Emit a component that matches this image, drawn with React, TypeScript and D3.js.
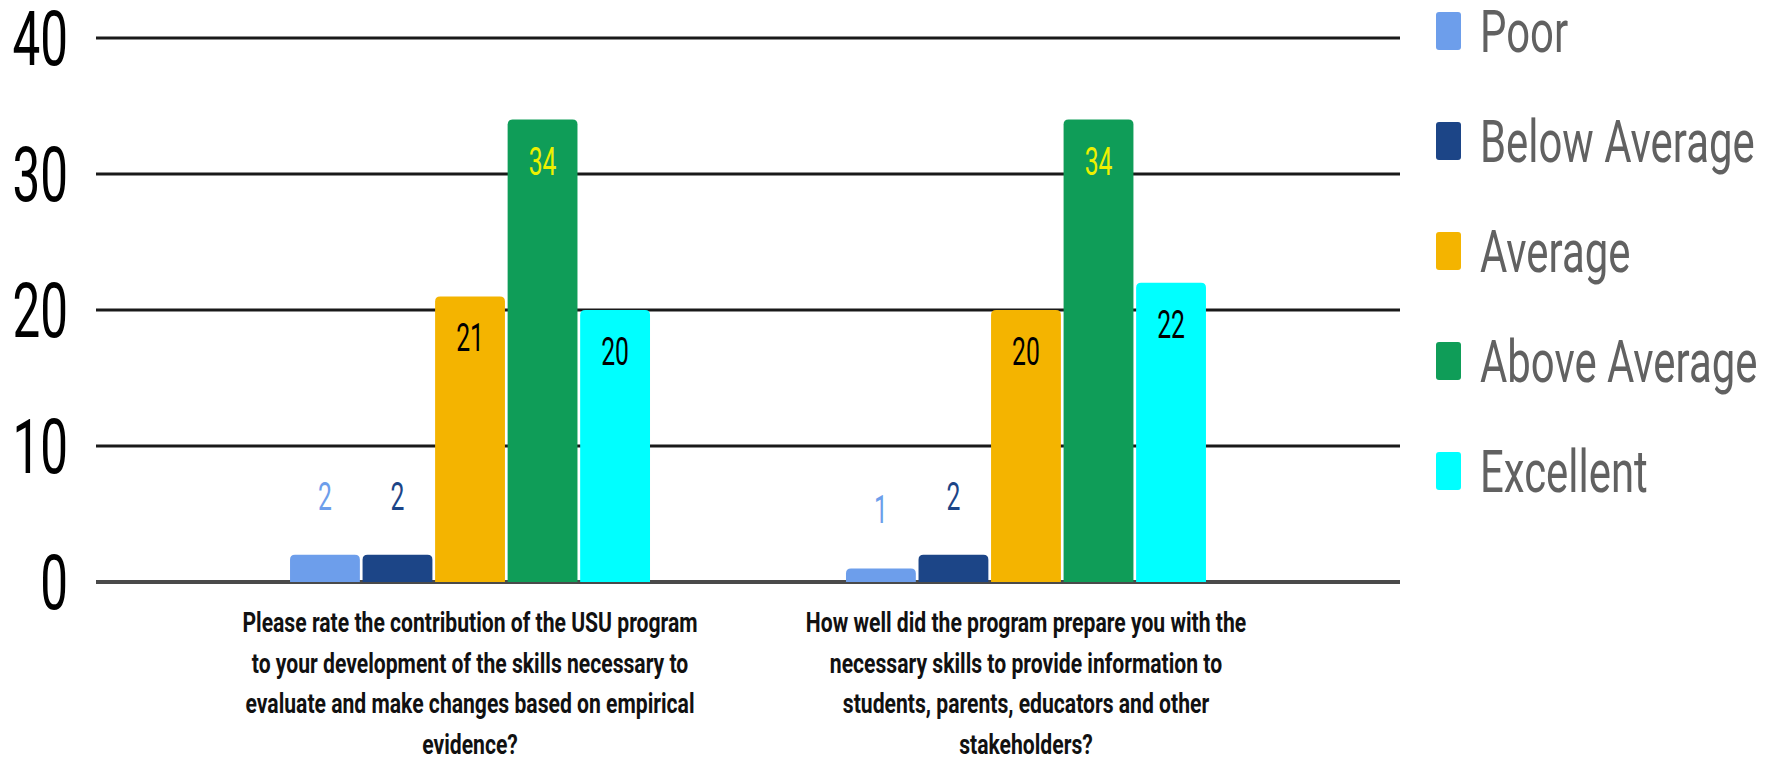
import React from "react";
import * as d3 from "d3";

const categories = [
  [
    "Please rate the contribution of the USU program",
    "to your development of the skills necessary to",
    "evaluate and make changes based on empirical",
    "evidence?",
  ],
  [
    "How well did the program prepare you with the",
    "necessary skills to provide information to",
    "students, parents, educators and other",
    "stakeholders?",
  ],
];
const seriesNames = ["Poor", "Below Average", "Average", "Above Average", "Excellent"];
const seriesColors = ["#6d9eeb", "#1c4587", "#f4b400", "#0f9d58", "#00ffff"];
const insideLabelColors = ["#000000", "#000000", "#000000", "#eef000", "#000000"];
const poor = [2, 1];
const belowAverage = [2, 2];
const average = [21, 20];
const aboveAverage = [34, 34];
const excellent = [20, 22];
const yTicks = [0, 10, 20, 30, 40];

const W = 1781;
const H = 761;
const SX = 0.65;
const FONT = "Roboto, 'Noto Sans', sans-serif";

export default function App() {
  const series = [poor, belowAverage, average, aboveAverage, excellent];
  const y = d3.scaleLinear().domain([0, 40]).range([582, 38]);
  const x0 = d3
    .scaleBand<number>()
    .domain([0, 1])
    .range([96, 1400])
    .paddingInner(0.3525)
    .paddingOuter(0.349);
  const x1 = d3
    .scaleBand<number>()
    .domain(d3.range(seriesNames.length))
    .range([0, x0.bandwidth()])
    .paddingInner(0.037)
    .paddingOuter(0);

  const topRounded = (x: number, yTop: number, w: number, h: number, r: number) => {
    const rr = Math.min(r, h, w / 2);
    const p = d3.path();
    p.moveTo(x, yTop + h);
    p.lineTo(x, yTop + rr);
    p.quadraticCurveTo(x, yTop, x + rr, yTop);
    p.lineTo(x + w - rr, yTop);
    p.quadraticCurveTo(x + w, yTop, x + w, yTop + rr);
    p.lineTo(x + w, yTop + h);
    p.closePath();
    return p.toString();
  };

  const T = (props: any) => {
    const { x, y: ty, sx = SX, children, ...rest } = props;
    return (
      <text transform={`translate(${x},${ty}) scale(${sx},1)`} fontFamily={FONT} {...rest}>
        {children}
      </text>
    );
  };

  return (
    <svg
      width={W}
      height={H}
      style={{ position: "absolute", left: 0, top: 0, background: "#fff" }}
    >
      {yTicks.map((t) => (
        <g key={t}>
          <line
            x1={96}
            x2={1400}
            y1={y(t)}
            y2={y(t)}
            stroke={t === 0 ? "#4a4a4a" : "#1a1a1a"}
            strokeWidth={t === 0 ? 4 : 3}
          />
          <T x={68} y={y(t) + 27} fontSize={76} textAnchor="end" fill="#000">
            {t}
          </T>
        </g>
      ))}

      {categories.map((lines, ci) => {
        const gx = x0(ci)!;
        return (
          <g key={ci}>
            {series.map((vals, si) => {
              const v = vals[ci];
              const bx = gx + x1(si)!;
              const bw = x1.bandwidth();
              const top = y(v);
              const h = y(0) - top;
              const cx = bx + bw / 2;
              const inside = v >= 5;
              return (
                <g key={si}>
                  <path d={topRounded(bx, top, bw, h, 5)} fill={seriesColors[si]} />
                  {inside ? (
                    <T x={cx} y={top + 55} fontSize={38} textAnchor="middle" fill={insideLabelColors[si]}>
                      {v}
                    </T>
                  ) : (
                    <T x={cx} y={top - 45} fontSize={38} textAnchor="middle" fill={seriesColors[si]}>
                      {v}
                    </T>
                  )}
                </g>
              );
            })}
            {lines.map((ln, li) => (
              <T
                key={li}
                x={gx + x0.bandwidth() / 2}
                y={632 + li * 40.5}
                sx={0.755}
                fontSize={28}
                fontWeight={700}
                textAnchor="middle"
                fill="#111"
              >
                {ln}
              </T>
            ))}
          </g>
        );
      })}

      {seriesNames.map((name, i) => {
        const cy = 31 + i * 110;
        return (
          <g key={name}>
            <rect x={1436} y={cy - 19} width={25} height={38} rx={3} fill={seriesColors[i]} />
            <T x={1480} y={cy + 21} sx={0.71} fontSize={59} fill="#616161">
              {name}
            </T>
          </g>
        );
      })}
    </svg>
  );
}
